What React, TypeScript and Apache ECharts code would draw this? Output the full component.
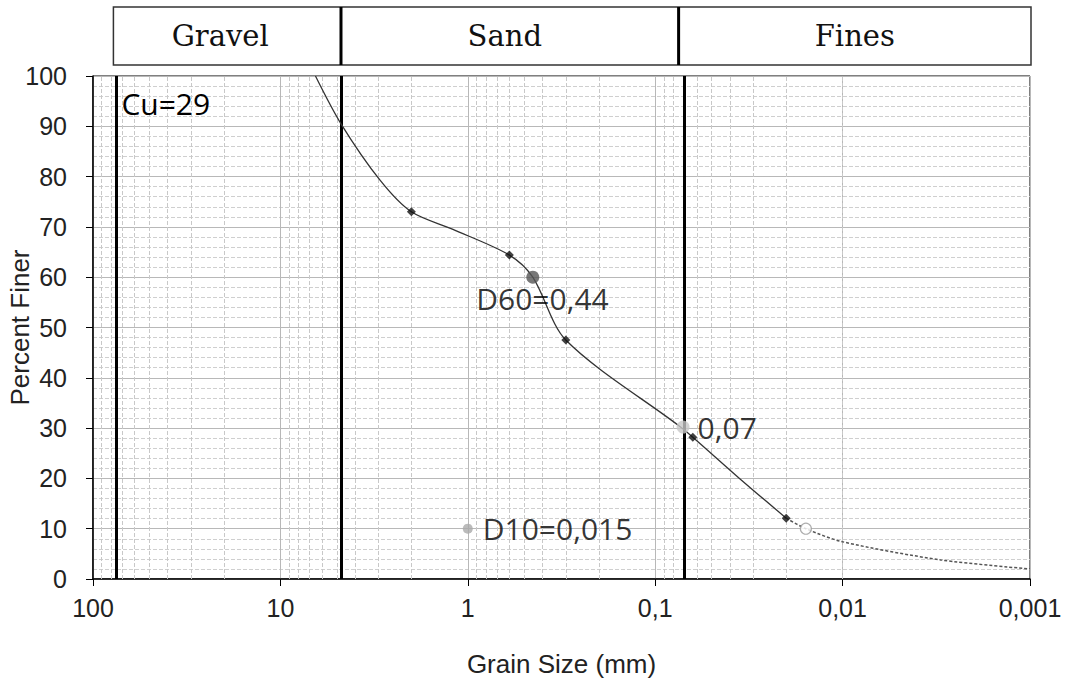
import React, { useEffect, useRef } from "react";
import * as echarts from "echarts";

// Grain-size distribution curve
const curveX = [6.5, 4.75, 2.94, 2.0, 1.2, 0.6, 0.45, 0.3, 0.075, 0.063, 0.035, 0.02];
const curveY = [100, 90.5, 79.3, 73, 69.5, 64.4, 60, 47.5, 30.5, 28.2, 19.8, 12.1];
// Sieve points (black diamonds)
const sieveX = [2.0, 0.6, 0.3, 0.063, 0.02];
const sieveY = [73, 64.4, 47.5, 28.2, 12.1];
// Hydrometer extension (dashed)
const hydroX = [0.02, 0.0157, 0.01, 0.003, 0.001];
const hydroY = [12.1, 10, 7.4, 3.8, 2.0];
// Soil class boundaries (mm)
const boundaries = [75, 4.75, 0.075];
const classNames = ["Gravel", "Sand", "Fines"];
// Annotated points
const d60 = [0.45, 60];
const p007 = [0.071, 30.2];
const d10 = [1.0, 10];
const openPt = [0.0157, 10];
const d60Label = "D60=0,44";
const p007Label = "0,07";
const d10Label = "D10=0,015";
const cuLabel = "Cu=29";
const xTicks = [100, 10, 1, 0.1, 0.01, 0.001];
const yTicks = [0, 10, 20, 30, 40, 50, 60, 70, 80, 90, 100];

const zip = (xs: number[], ys: number[]) => xs.map((x, i) => [x, ys[i]]);

export default function App() {
  const ref = useRef<HTMLDivElement>(null);
  useEffect(() => {
    if (!ref.current) return;
    const chart = echarts.init(ref.current, null, { renderer: "svg" });
    const minorX: number[] = [];
    [0.001, 0.01, 0.1, 1, 10].forEach((d) => {
      for (let m = 2; m <= 9; m++) minorX.push(Number((d * m).toPrecision(3)));
    });
    const annotFont = "Open Sans";
    const axisFont = "Liberation Sans";
    chart.setOption({
      animation: false,
      backgroundColor: "#ffffff",
      grid: {
        left: 93,
        right: 40,
        top: 76,
        bottom: 105,
        outerBoundsMode: "none",
        containLabel: false,
        show: true,
        borderColor: "#000",
        borderWidth: 1,
        backgroundColor: "transparent",
      },
      xAxis: {
        type: "log",
        logBase: 10,
        min: xTicks[xTicks.length - 1],
        max: xTicks[0],
        inverse: true,
        name: "Grain Size (mm)",
        nameLocation: "middle",
        nameGap: 72,
        nameMoveOverlap: false,
        nameTextStyle: { fontFamily: axisFont, fontSize: 26, color: "#222" },
        axisLine: { lineStyle: { color: "#000", width: 1.5 } },
        axisTick: { show: true, length: 7, lineStyle: { color: "#000" } },
        axisLabel: {
          fontFamily: axisFont,
          fontSize: 25,
          color: "#222",
          margin: 16,
          formatter: (v: number) => String(Number(v.toPrecision(3))).replace(".", ","),
        },
        splitLine: { show: true, lineStyle: { color: "#b8b8b8", width: 1 } },
        minorTick: { show: false },
        minorSplitLine: { show: false },
      },
      yAxis: {
        type: "value",
        min: yTicks[0],
        max: yTicks[yTicks.length - 1],
        interval: 10,
        name: "Percent Finer",
        nameLocation: "middle",
        nameGap: 60,
        nameMoveOverlap: false,
        nameTextStyle: { fontFamily: axisFont, fontSize: 26, color: "#222" },
        axisLine: { show: true, lineStyle: { color: "#000", width: 1.5 } },
        axisTick: { show: true, length: 7, lineStyle: { color: "#000" } },
        axisLabel: { fontFamily: axisFont, fontSize: 25, color: "#222", margin: 26 },
        splitLine: { show: true, lineStyle: { color: "#b8b8b8", width: 1 } },
        minorTick: { show: false, splitNumber: 5 },
        minorSplitLine: { show: true, lineStyle: { color: "#cfcfcf", type: [4, 2], width: 1 } },
      },
      series: [
        {
          type: "line",
          data: [],
          silent: true,
          markLine: {
            silent: true,
            symbol: "none",
            label: { show: false },
            lineStyle: { color: "#c8c8c8", type: [4, 2], width: 1 },
            data: minorX.map((v) => ({ xAxis: v })),
          },
        },
        {
          type: "line",
          data: [],
          silent: true,
          z: 5,
          markLine: {
            silent: true,
            symbol: "none",
            label: { show: false },
            lineStyle: { color: "#000", type: "solid", width: 3 },
            data: boundaries.map((v) => ({ xAxis: v })),
          },
        },
        {
          type: "line",
          data: zip(curveX, curveY),
          smooth: 0.3,
          showSymbol: false,
          lineStyle: { color: "#333", width: 1.3 },
          z: 6,
        },
        {
          type: "line",
          data: zip(hydroX, hydroY),
          smooth: 0.3,
          showSymbol: false,
          lineStyle: { color: "#555", width: 1.5, type: [3, 2] },
          z: 6,
        },
        {
          type: "scatter",
          data: zip(sieveX, sieveY),
          symbol: "diamond",
          symbolSize: 9,
          itemStyle: { color: "#111" },
          z: 7,
        },
        {
          type: "scatter",
          z: 8,
          data: [
            {
              value: d60,
              symbolSize: 13,
              itemStyle: { color: "#555" },
              label: {
                show: true,
                formatter: d60Label,
                position: [-50, 28],
                align: "left",
                verticalAlign: "middle",
                fontFamily: annotFont,
                fontSize: 30,
                color: "#000",
              },
            },
            {
              value: p007,
              symbolSize: 13,
              itemStyle: { color: "#c8c8c8" },
              label: {
                show: true,
                formatter: p007Label,
                position: "right",
                distance: 8,
                fontFamily: annotFont,
                fontSize: 30,
                color: "#000",
              },
            },
            {
              value: d10,
              symbolSize: 10,
              itemStyle: { color: "#aaaaaa" },
              label: {
                show: true,
                formatter: d10Label,
                position: "right",
                distance: 10,
                fontFamily: annotFont,
                fontSize: 30,
                color: "#000",
              },
            },
            {
              value: openPt,
              symbol: "circle",
              symbolSize: 11,
              itemStyle: { color: "#fff", borderColor: "#999", borderWidth: 1.2 },
            },
          ],
        },
      ],
    });

    const px = (x: number, y: number) => chart.convertToPixel({ gridIndex: 0 }, [x, y]) as number[];
    const top = 7;
    const bottom = 65;
    const left = px(boundaries[0], 0)[0] - 3;
    const right = px(xTicks[xTicks.length - 1], 0)[0] + 1;
    const b1 = px(boundaries[1], 0)[0];
    const b2 = px(boundaries[2], 0)[0];
    const cuPos = px(boundaries[0], 94.5);
    const centers = [(left + b1) / 2 - 7, (b1 + b2) / 2 - 5, (b2 + right) / 2];
    chart.setOption({
      graphic: [
        {
          type: "rect",
          shape: { x: left, y: top, width: right - left, height: bottom - top },
          style: { fill: "#fff", stroke: "#333", lineWidth: 1.5 },
          z: 10,
        },
        {
          type: "line",
          shape: { x1: b1, y1: top, x2: b1, y2: bottom },
          style: { stroke: "#000", lineWidth: 3 },
          z: 11,
        },
        {
          type: "line",
          shape: { x1: b2, y1: top, x2: b2, y2: bottom },
          style: { stroke: "#000", lineWidth: 3 },
          z: 11,
        },
        ...classNames.map((n, i) => ({
          type: "text",
          x: centers[i],
          y: (top + bottom) / 2,
          z: 12,
          style: {
            text: n,
            fontFamily: "DejaVu Serif",
            fontSize: 29,
            fill: "#111",
            align: "center",
            verticalAlign: "middle",
          },
        })),
        {
          type: "text",
          x: cuPos[0] + 5,
          y: cuPos[1],
          z: 12,
          style: {
            text: cuLabel,
            fontFamily: annotFont,
            fontSize: 30,
            fill: "#000",
            align: "left",
            verticalAlign: "middle",
          },
        },
      ],
    });
    return () => chart.dispose();
  }, []);
  return (
    <div
      ref={ref}
      style={{ position: "fixed", left: 0, top: 0, width: 1070, height: 684 }}
    />
  );
}
